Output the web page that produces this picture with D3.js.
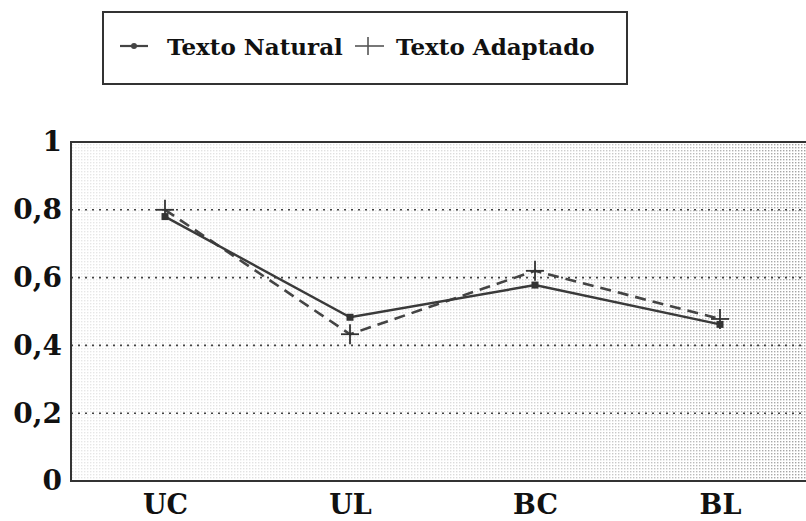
<!DOCTYPE html>
<html><head><meta charset="utf-8">
<script src="https://cdn.jsdelivr.net/npm/d3@7"></script>
<style>body{margin:0;background:#fff}svg{display:block}</style>
</head><body>
<svg id="c" width="806" height="521"></svg>
<script>
const categories = ["UC", "UL", "BC", "BL"];
const natural = [0.78, 0.483, 0.578, 0.462];
const adaptado = [0.80, 0.433, 0.62, 0.478];
const yTicks = [0, 0.2, 0.4, 0.6, 0.8, 1];
const yTickLabels = ["0", "0,2", "0,4", "0,6", "0,8", "1"];
const seriesNames = ["Texto Natural", "Texto Adaptado"];

const svg = d3.select("#c");
const font = "'DejaVu Serif', serif";
const plot = {left: 71, top: 142, right: 812, bottom: 481};

const x = d3.scalePoint().domain(categories).range([165, 720]);
const y = d3.scaleLinear().domain([0, 1]).range([plot.bottom, plot.top]);

// halftone background
const defs = svg.append("defs");
const pat = defs.append("pattern").attr("id", "dots").attr("width", 3).attr("height", 3)
  .attr("patternUnits", "userSpaceOnUse");
pat.append("rect").attr("width", 1.4).attr("height", 1.4).attr("fill", "#777");
const grad = defs.append("linearGradient").attr("id", "fade");
grad.append("stop").attr("offset", "0").attr("stop-color", "#fff").attr("stop-opacity", 0.18);
grad.append("stop").attr("offset", "0.5").attr("stop-color", "#fff").attr("stop-opacity", 0.25);
grad.append("stop").attr("offset", "0.8").attr("stop-color", "#fff").attr("stop-opacity", 0.45);
grad.append("stop").attr("offset", "1").attr("stop-color", "#fff").attr("stop-opacity", 0.7);
const mask = defs.append("mask").attr("id", "m");
mask.append("rect").attr("x", plot.left).attr("y", plot.top)
  .attr("width", plot.right - plot.left).attr("height", plot.bottom - plot.top).attr("fill", "url(#fade)");

svg.append("rect").attr("x", plot.left).attr("y", plot.top)
  .attr("width", plot.right - plot.left).attr("height", plot.bottom - plot.top)
  .attr("fill", "url(#dots)").attr("mask", "url(#m)");

// grid
svg.append("g").selectAll("line").data(yTicks.filter(d => d > 0 && d < 1)).join("line")
  .attr("x1", plot.left).attr("x2", plot.right)
  .attr("y1", d => y(d)).attr("y2", d => y(d))
  .attr("stroke", "#444").attr("stroke-width", 1.6).attr("stroke-dasharray", "2,5");

// frame
svg.append("path")
  .attr("d", `M${plot.right},${plot.top}H${plot.left}V${plot.bottom}H${plot.right}`)
  .attr("fill", "none").attr("stroke", "#333").attr("stroke-width", 2);

// y axis labels
const yAxis = d3.axisLeft(y).tickValues(yTicks).tickFormat((d, i) => yTickLabels[i]).tickSize(0).tickPadding(9);
const gy = svg.append("g").attr("transform", `translate(${plot.left},0)`).call(yAxis);
gy.select(".domain").remove();
gy.selectAll("text").attr("font-family", font).attr("font-weight", "bold")
  .attr("font-size", 28).attr("fill", "#111");

// x axis labels
const xAxis = d3.axisBottom(x).tickSize(0).tickPadding(14);
const gx = svg.append("g").attr("transform", `translate(0,${plot.bottom})`).call(xAxis);
gx.select(".domain").remove();
gx.selectAll("text").attr("font-family", font).attr("font-weight", "bold")
  .attr("font-size", 27).attr("fill", "#111");

// lines
const line = d3.line().x((d, i) => x(categories[i])).y(d => y(d));
svg.append("path").datum(adaptado).attr("d", line).attr("fill", "none")
  .attr("stroke", "#444").attr("stroke-width", 2.6).attr("stroke-dasharray", "11,7");
svg.append("path").datum(natural).attr("d", line).attr("fill", "none")
  .attr("stroke", "#3a3a3a").attr("stroke-width", 2.4);

// markers
svg.append("g").selectAll("rect").data(natural).join("rect")
  .attr("x", (d, i) => x(categories[i]) - 3.5).attr("y", d => y(d) - 3.5)
  .attr("width", 7).attr("height", 7).attr("fill", "#333");
const plus = svg.append("g").selectAll("g").data(adaptado).join("g")
  .attr("transform", (d, i) => `translate(${x(categories[i])},${y(d)})`);
plus.append("line").attr("x1", -9).attr("x2", 9).attr("stroke", "#333").attr("stroke-width", 1.8);
plus.append("line").attr("y1", -10).attr("y2", 10).attr("stroke", "#333").attr("stroke-width", 1.8);

// legend
const lg = svg.append("g");
lg.append("rect").attr("x", 103).attr("y", 12).attr("width", 524).attr("height", 72)
  .attr("fill", "#fff").attr("stroke", "#333").attr("stroke-width", 2);
lg.append("line").attr("x1", 120).attr("x2", 148).attr("y1", 46).attr("y2", 46)
  .attr("stroke", "#444").attr("stroke-width", 2.2);
lg.append("circle").attr("cx", 134).attr("cy", 46).attr("r", 3).attr("fill", "#444");
lg.append("text").attr("x", 167).attr("y", 55).text(seriesNames[0])
  .attr("font-family", font).attr("font-weight", "bold").attr("font-size", 23).attr("fill", "#111");
lg.append("line").attr("x1", 355).attr("x2", 384).attr("y1", 46).attr("y2", 46)
  .attr("stroke", "#555").attr("stroke-width", 1.6);
lg.append("line").attr("x1", 368).attr("x2", 368).attr("y1", 37).attr("y2", 55)
  .attr("stroke", "#555").attr("stroke-width", 1.6);
lg.append("text").attr("x", 396).attr("y", 55).text(seriesNames[1])
  .attr("font-family", font).attr("font-weight", "bold").attr("font-size", 23).attr("fill", "#111");
</script>
</body></html>
